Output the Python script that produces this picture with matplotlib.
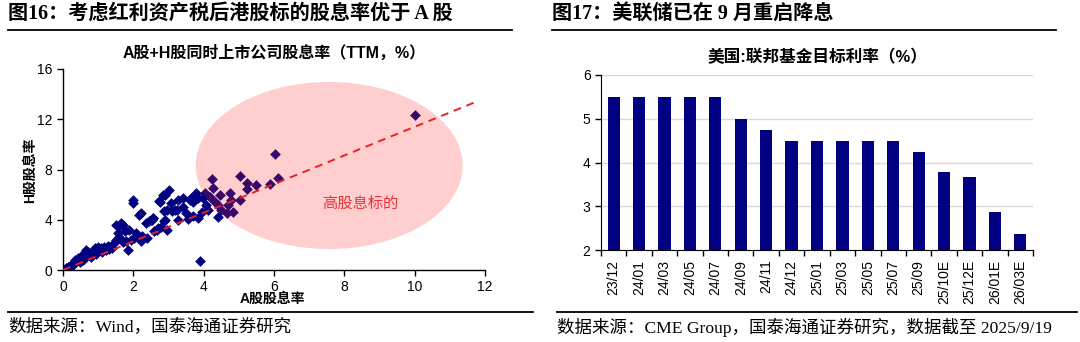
import numpy as np
import matplotlib
matplotlib.use("Agg")
import matplotlib.pyplot as plt
from matplotlib.patches import Ellipse
from matplotlib.lines import Line2D

plt.rcParams['font.family'] = ['Liberation Sans', 'Noto Sans CJK SC']
plt.rcParams['axes.unicode_minus'] = False

# ---------------- data ----------------
a_yield = [0.05, 0.09, 0.19, 0.28, 0.33, 0.42, 0.47, 0.52, 0.57, 0.61, 0.66, 0.71, 0.75, 0.85, 0.90,
           0.99, 1.04, 1.08, 1.18, 1.23, 1.32, 0.15, 0.25, 0.38, 0.80, 0.95, 1.12, 1.28, 1.40, 0.65,
           1.46, 1.51, 1.56, 1.60, 1.65, 1.70, 1.51, 1.75, 1.79, 1.84, 1.89, 1.93, 1.98, 2.00, 2.08,
           2.17, 2.22, 2.26, 2.36, 2.45, 2.50, 2.55, 2.60, 2.69, 2.74, 2.83, 2.88, 2.88, 3.02, 3.07,
           3.11, 2.22, 2.40, 2.03, 1.60, 1.70,
           2.90, 2.76, 2.95, 2.90, 3.28, 3.18, 2.57, 2.52, 2.66, 2.80, 2.95, 3.42, 3.42, 3.28, 3.23,
           3.61, 3.65, 3.70, 3.75, 3.79, 3.84, 3.98, 3.84, 3.89, 4.03, 4.08, 4.13, 4.18, 4.25, 4.27,
           4.32, 4.41, 4.41, 4.50, 4.46, 4.65, 4.70, 4.74, 4.79, 4.84, 5.03, 5.03, 5.22, 5.22, 5.50,
           5.88, 6.02, 6.10, 10.0, 3.55, 3.70, 3.95, 3.50]
h_yield = [0.05, 0.13, 0.32, 0.53, 0.80, 0.93, 0.67, 1.07, 0.80, 1.33, 1.60, 1.47, 1.20, 1.47, 1.73,
           1.87, 1.60, 1.73, 1.87, 1.60, 1.65, 0.20, 0.30, 0.60, 1.00, 1.30, 1.45, 1.90, 1.75, 1.05,
           2.13, 2.40, 2.93, 3.47, 3.73, 3.60, 3.60, 3.07, 2.27, 1.60, 3.20, 2.40, 5.33, 5.60, 2.93,
           4.40, 4.53, 2.67, 3.73, 3.87, 4.00, 4.13, 3.07, 3.33, 5.47, 6.00, 4.67, 3.87, 6.40, 5.33,
           4.67, 2.27, 2.53, 2.53, 2.60, 2.20,
           5.97, 5.44, 4.78, 3.98, 3.98, 4.78, 4.12, 3.98, 3.18, 3.45, 3.18, 5.71, 5.04, 5.57, 4.78,
           5.57, 5.71, 5.44, 5.84, 6.10, 5.71, 5.71, 4.12, 0.70, 6.10, 5.17, 4.78, 5.84, 7.22, 6.50,
           5.44, 5.17, 4.25, 4.78, 5.97, 4.51, 5.17, 6.10, 5.57, 4.64, 7.48, 5.57, 6.95, 6.42, 6.80,
           6.82, 9.20, 7.30, 12.30, 4.05, 4.30, 4.60, 4.50]
trend_x = [0.0, 11.8]
trend_y = [0.0, 13.45]

months = ["23/12", "24/01", "24/03", "24/05", "24/07", "24/09", "24/11", "24/12", "25/01",
          "25/03", "25/05", "25/07", "25/09", "25/10E", "25/12E", "26/01E", "26/03E"]
fed_rate = [5.5, 5.5, 5.5, 5.5, 5.5, 5.0, 4.75, 4.5, 4.5, 4.5, 4.5, 4.5, 4.25, 3.79, 3.67, 2.86, 2.37]

W, H = 1080, 342
fig = plt.figure(figsize=(W / 100, H / 100), dpi=100)

def fx(px):
    return px / W

def fy(py):
    return 1 - py / H

navy = '#000080'
head_font = ['Liberation Serif', 'Noto Sans CJK SC']

# ---------------- headings ----------------
fig.text(fx(8), fy(14), "图16：考虑红利资产税后港股标的股息率优于 A 股", family=head_font,
         fontsize=14.5, fontweight='bold', va='center', ha='left')
fig.text(fx(552), fy(14), "图17：美联储已在 9 月重启降息", family=head_font,
         fontsize=14.5, fontweight='bold', va='center', ha='left')
fig.add_artist(Line2D([fx(8), fx(512)], [fy(30), fy(30)], color='black', lw=1.3))
fig.add_artist(Line2D([fx(552), fx(1056)], [fy(30), fy(30)], color='black', lw=1.3))

# footers
fig.add_artist(Line2D([fx(8), fx(533)], [fy(312), fy(312)], color='black', lw=1.3))
fig.add_artist(Line2D([fx(557), fx(1077)], [fy(312), fy(312)], color='black', lw=1.3))
fig.text(fx(8), fy(327), "数据来源：Wind，国泰海通证券研究", family=head_font,
         fontsize=12.6, va='center', ha='left')
fig.text(fx(557), fy(327), "数据来源：CME Group，国泰海通证券研究，数据截至 2025/9/19", family=head_font,
         fontsize=12.6, va='center', ha='left')

# ---------------- left scatter ----------------
ax1 = fig.add_axes([fx(63), fy(270), fx(485) - fx(63), fy(69) - fy(270)])
ax1.scatter(a_yield, h_yield, marker='D', s=30, color=navy, linewidths=0, zorder=2)
ell = Ellipse((7.57, 8.32), 7.59, 13.3, facecolor='#FF2020', alpha=0.22, edgecolor='none', zorder=3)
ax1.add_patch(ell)
ax1.plot(trend_x, trend_y, color='#E8202A', lw=1.4, ls=(0, (4, 3)), zorder=4)
ax1.text(8.44, 5.33, "高股息标的", color='#E8333A', fontsize=11, ha='center', va='center',
         family=['Noto Sans CJK SC'], zorder=5)
ax1.set_xlim(0, 12)
ax1.set_ylim(0, 16)
ax1.set_xticks([0, 2, 4, 6, 8, 10, 12])
ax1.set_yticks([0, 4, 8, 12, 16])
for s in ['top', 'right']:
    ax1.spines[s].set_visible(False)
for s in ['left', 'bottom']:
    ax1.spines[s].set_linewidth(1.0)
ax1.tick_params(axis='both', direction='out', length=4, width=1, labelsize=10, colors='black')
ax1.tick_params(axis='x', pad=3)
ax1.set_title("A股+H股同时上市公司股息率（TTM，%）", fontsize=11.5, fontweight='bold', pad=8)
fig.text(fx(30), fy(170), "H股股息率", rotation=90, fontsize=10, fontweight='bold',
         ha='center', va='center')
fig.text(fx(272), fy(299), "A股股息率", fontsize=10, fontweight='bold', ha='center', va='center')

# ---------------- right bars ----------------
ax2 = fig.add_axes([fx(601), fy(250), fx(1033) - fx(601), fy(75) - fy(250)])
xpos = np.arange(len(months))
ax2.bar(xpos, np.array(fed_rate) - 2, bottom=2, width=0.48, color=navy, zorder=3)
ax2.set_xlim(-0.5, len(months) - 0.5)
ax2.set_ylim(2, 6)
ax2.set_yticks([2, 3, 4, 5, 6])
ax2.yaxis.grid(True, color='#D9D9D9', lw=1.0, zorder=0)
ax2.set_axisbelow(True)
ax2.set_xticks(xpos)
ax2.set_xticklabels(months, rotation=90)
ax2.set_xticks(np.arange(-0.5, len(months)), minor=True)
ax2.tick_params(axis='x', which='major', length=0, labelsize=10, pad=7)
ax2.tick_params(axis='x', which='minor', length=4, width=1, direction='out')
ax2.tick_params(axis='y', length=4, width=1, direction='out', labelsize=10)
for s in ['top', 'right']:
    ax2.spines[s].set_visible(False)
ax2.set_title("美国:联邦基金目标利率（%）", fontsize=12, fontweight='bold', pad=9)

fig.savefig("out.png", dpi=100)
